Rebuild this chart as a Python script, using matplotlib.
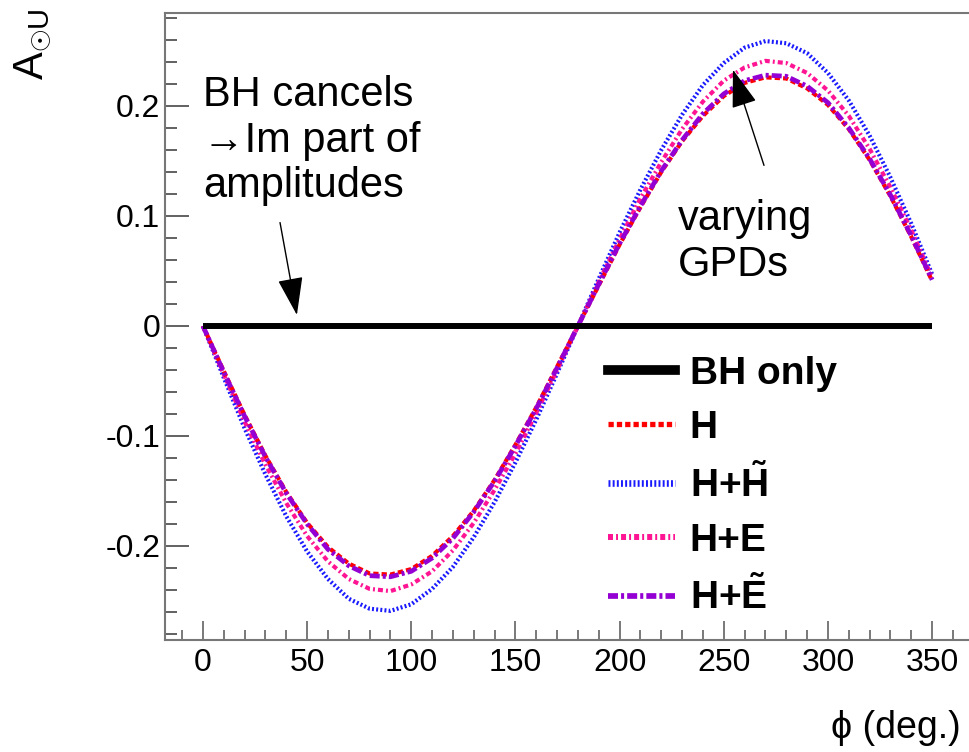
import matplotlib
matplotlib.use("Agg")
import matplotlib.pyplot as plt
from matplotlib.lines import Line2D
from matplotlib.ticker import MultipleLocator

plt.rcParams['axes.unicode_minus'] = False
plt.rcParams['lines.scale_dashes'] = False
plt.rcParams['mathtext.fontset'] = 'custom'
plt.rcParams['mathtext.rm'] = 'Liberation Sans'
plt.rcParams['mathtext.bf'] = 'Liberation Sans:bold'
plt.rcParams['font.family'] = ['Liberation Sans', 'DejaVu Sans']

# phi in degrees
phi = [0, 10, 20, 30, 40, 50, 60, 70, 80, 90, 100, 110, 120, 130, 140, 150, 160, 170,
       180, 190, 200, 210, 220, 230, 240, 250, 260, 270, 280, 290, 300, 310, 320, 330, 340, 350]

bh_only = [0.0] * len(phi)
a_H = [0, -0.041, -0.081, -0.118, -0.151, -0.179, -0.201, -0.216, -0.225, -0.226, -0.221, -0.209,
       -0.191, -0.168, -0.140, -0.108, -0.074, -0.037, 0.000, 0.037, 0.074, 0.108, 0.140, 0.168,
       0.191, 0.209, 0.221, 0.226, 0.225, 0.216, 0.201, 0.179, 0.151, 0.118, 0.081, 0.041]
a_HHt = [0, -0.047, -0.093, -0.135, -0.173, -0.205, -0.230, -0.248, -0.257, -0.259, -0.253, -0.239,
         -0.219, -0.192, -0.160, -0.124, -0.085, -0.043, 0.000, 0.043, 0.085, 0.124, 0.160, 0.192,
         0.219, 0.239, 0.253, 0.259, 0.257, 0.248, 0.230, 0.205, 0.173, 0.135, 0.093, 0.047]
a_HE = [0, -0.044, -0.087, -0.126, -0.161, -0.191, -0.214, -0.230, -0.239, -0.241, -0.235, -0.223,
        -0.204, -0.179, -0.149, -0.116, -0.079, -0.040, 0.000, 0.040, 0.079, 0.116, 0.149, 0.179,
        0.204, 0.223, 0.235, 0.241, 0.239, 0.230, 0.214, 0.191, 0.161, 0.126, 0.087, 0.044]
a_HEt = [0, -0.042, -0.082, -0.119, -0.152, -0.180, -0.203, -0.218, -0.227, -0.228, -0.223, -0.211,
         -0.193, -0.169, -0.141, -0.109, -0.075, -0.038, 0.000, 0.038, 0.075, 0.109, 0.141, 0.169,
         0.193, 0.211, 0.223, 0.228, 0.227, 0.218, 0.203, 0.180, 0.152, 0.119, 0.082, 0.042]

labels = ['BH only', 'H', r'H+$\mathbf{\tilde{H}}$', 'H+E', r'H+$\mathbf{\tilde{E}}$']
colors = ['black', '#ff0000', '#1a1aff', '#ff1493', '#9400d3']
dashes = [None, (3.8, 2.2), (1.4, 1.6), (3.6, 2.2, 1.4, 2.2), (7.2, 2.2, 2.2, 2.2)]

fig = plt.figure(figsize=(9.69, 7.52), dpi=100)
ax = fig.add_axes([0.1703, 0.1489, 0.8297, 0.8338])

# draw curves (blue bottom, purple on top)
ax.plot(phi, a_HHt, color=colors[2], lw=3.0, dashes=dashes[2], zorder=2)
ax.plot(phi, a_HE, color=colors[3], lw=3.0, dashes=dashes[3], zorder=3)
ax.plot(phi, a_H, color=colors[1], lw=3.0, dashes=dashes[1], zorder=4)
ax.plot(phi, a_HEt, color=colors[4], lw=3.4, dashes=dashes[4], zorder=5)
ax.plot(phi, bh_only, color='black', lw=4.3, solid_capstyle='butt', zorder=6)

ax.set_xlim(-18.2, 367.7)
ax.set_ylim(-0.2855, 0.2845)

ax.xaxis.set_major_locator(MultipleLocator(50))
ax.xaxis.set_minor_locator(MultipleLocator(10))
ax.yaxis.set_major_locator(MultipleLocator(0.1))
ax.yaxis.set_minor_locator(MultipleLocator(0.02))
ax.set_yticks([-0.2, -0.1, 0, 0.1, 0.2])
ax.set_yticklabels(['-0.2', '-0.1', '0', '0.1', '0.2'])

ax.tick_params(axis='both', which='both', direction='in', top=False, right=False,
               labelsize=23, color='#555555')
ax.tick_params(axis='y', which='major', length=17.3, width=1.3, pad=3.5)
ax.tick_params(axis='y', which='minor', length=8.6, width=1.3)
ax.tick_params(axis='x', which='major', length=13.7, width=1.1, pad=6)
ax.tick_params(axis='x', which='minor', length=7.2, width=1.1)

for s in ['left', 'bottom', 'top']:
    ax.spines[s].set_color('#777777')
    ax.spines[s].set_linewidth(1.5)
ax.spines['right'].set_visible(False)

ax.set_xlabel('\u03d5 (deg.)', fontsize=27, ha='right')
ax.xaxis.set_label_coords(0.99, -0.112)
ax.set_ylabel(r'$\mathrm{A}_{\odot\mathrm{U}}$', fontsize=30)
ax.yaxis.set_label_coords(-0.139, 0.95)

# annotations
ax.text(0, 0.228, 'BH cancels\n\u2192Im part of\namplitudes', fontsize=30,
        ha='left', va='top', linespacing=1.18)
ax.annotate('', xy=(45.1, 0.010), xytext=(37.0, 0.094),
            arrowprops=dict(arrowstyle='-|>,head_length=1.2,head_width=0.4',
                            mutation_scale=20, lw=1, color='black',
                            shrinkA=0, shrinkB=0))
ax.text(228, 0.115, 'varying\nGPDs', fontsize=30, ha='left', va='top', linespacing=1.18)
ax.annotate('', xy=(254.4, 0.233), xytext=(269.3, 0.146),
            arrowprops=dict(arrowstyle='-|>,head_length=1.2,head_width=0.4',
                            mutation_scale=20, lw=1, color='black',
                            shrinkA=0, shrinkB=0), zorder=10)

# legend
handle_lw = [7, 3.8, 4.8, 4.3, 4.1]
handles = []
for c, d, w in zip(colors, dashes, handle_lw):
    if d is None:
        handles.append(Line2D([], [], color=c, lw=w))
    else:
        handles.append(Line2D([], [], color=c, lw=w, dashes=d))
fig.legend(handles, labels, loc='upper left', bbox_to_anchor=(608 / 969, 1 - 356 / 752),
           frameon=False, borderpad=0, borderaxespad=0, handlelength=1.71,
           handletextpad=0.39, labelspacing=0.46,
           prop={'family': 'Liberation Sans', 'weight': 'bold', 'size': 28})

fig.savefig('out.png', dpi=100)
